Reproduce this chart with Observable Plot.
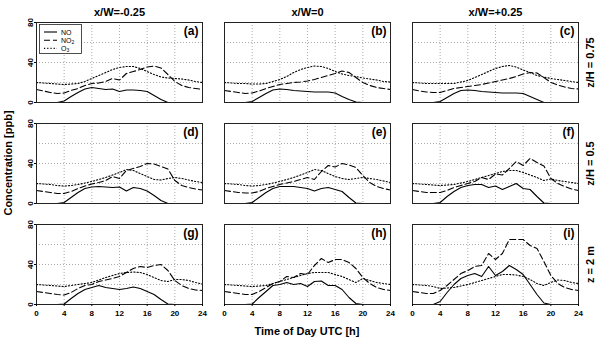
<!DOCTYPE html>
<html><head><meta charset="utf-8">
<script src="https://cdn.jsdelivr.net/npm/d3@7"></script>
<script src="https://cdn.jsdelivr.net/npm/@observablehq/plot@0.6"></script>
<style>
body{margin:0;background:#fff;}
#wrap{position:relative;width:600px;height:342px;font-family:"Liberation Sans",Arial,sans-serif;}
#wrap svg.plot{position:absolute;left:0;top:0;}
#ylab{position:absolute;left:8px;top:163px;transform:translate(-50%,-50%) rotate(-90deg);font-weight:bold;font-size:11px;white-space:nowrap;}
#xlab{position:absolute;left:307px;top:331px;transform:translate(-50%,-50%);font-weight:bold;font-size:11px;white-space:nowrap;}
#legend{position:absolute;left:0;top:0;pointer-events:none;}
</style></head>
<body><div id="wrap"></div>
<script>
const hours = [0,1,2,3,4,5,6,7,8,9,10,11,12,13,14,15,16,17,18,19,20,21,22,23,24];
const xTicks = [0,4,8,12,16,20,24];
const yTicks = [0,40,80];
const yGrid = [20,40,60];
const columns = ["x/W=-0.25","x/W=0","x/W=+0.25"];
const rows = ["z/H = 0.75","z/H = 0.5","z = 2 m"];
const letters = ["(a)","(b)","(c)","(d)","(e)","(f)","(g)","(h)","(i)"];
const speciesNames = ["NO","NO2","O3"];

// panel (a)
const NO_a  = [0,0,0,0,1.5,6,10,13.5,15,14,13,13.5,11,12.5,12.5,12,11,7,3,0,0,0,0,0,0];
const NO2_a = [13,11.5,10,9,9.5,12,14,17,19,19.5,21,24,22.5,29,31,33,35.5,36.5,34.5,28,21,17,15,14,13];
const O3_a  = [20,19.5,19,18.5,18,18.5,19,21,24,27,30,33,35,36,36,34,31,28,25.5,24.5,24,23.5,22.5,21,20];
// panel (b)
const NO_b  = [0,0,0,0,1,5,9,12.5,13.5,13,12,11.5,11,10.5,10.5,10.5,9.5,6,3,0.5,0,0,0,0,0];
const NO2_b = [12,11,10,9,9.5,11.5,14,16,18,19,20,20.5,21.5,23,25,27,29,31.5,30,25,20,17,15,14,13];
const O3_b  = [20,19.5,19,19,18.5,18.5,19,21,23,26,30,33,35,36.5,36,34,31,28.5,27,26,24.5,23.5,22.5,21,20.5];
// panel (c)
const NO_c  = [0,0,0,0,1,5,9,12,12.5,12,11,10.5,10,9.5,9.5,9.5,9,6,3,0,0,0,0,0,0];
const NO2_c = [13,11.5,10.5,10,10,12,14,15,16,17,18,19.5,21,22.5,24,26,28.5,30,29.5,25,20,17.5,15.5,14,13.5];
const O3_c  = [20,19.5,19,19,19,19,19,20.5,22,25,28,31,34,36,37,35.5,32.5,30,27,25.5,24,23,22,21,20];
// panel (d)
const NO_d  = [0,0,0,0,1,6,11,15,16.5,17,16.5,16,16.5,12.5,16,15,12.5,8,3,0,0,0,0,0,0];
const NO2_d = [13,12,11,10,10,12,15,17.5,19.5,21,23,27,25,33,35,37,40,39.5,37,34.5,23,18,16,14.5,13.5];
const O3_d  = [20,19.5,19,18,17.5,18,19,20.5,22,24,26,28.5,31,34,33,30,27,24,23.5,25,26,25,23.5,22,21];
// panel (e)
const NO_e  = [0,0,0,0,1,6,11,15,17,17,17,16,15,12.5,15,16,14,12,6,0.5,0,0,0,0,0];
const NO2_e = [13,12,11,10.5,10.5,12,15,17,19,20.5,22,24,26,24,32,38,36.5,40,38.5,36,28,21,17,15,13.5];
const O3_e  = [20,19.5,19,18,17.5,18,19,20.5,22,24,26,28.5,31,34,33,30,27,25,24,25,26,25,24,22.5,21];
// panel (f)
const NO_f  = [0,0,0,0,1,7,12,16,18,19,19,16,17.5,14,17,20,15,14,7,0.5,0,0,0,0,0];
const NO2_f = [13,12,11,11,11,13,16,18,20,22,26,24,29.5,28.5,35,42,38,45,41,37.5,25,20,17,14.5,13];
const O3_f  = [20,19.5,19,18.5,18,18.5,19,20.5,22,24,26,28,30,32,33,33,31,28.5,26,23,24.5,23,22,21,20];
// panel (g)
const NO_g  = [0,0,0,0,0.5,6,11,15,17,19,17,16,15,16,17.5,16,13,10,5,0.5,0,0,0,0,0];
const NO2_g = [13,12,11,10,9.5,12,16,19,20,23,24.5,26,28,32,36,38,37,39,40,34,24,19,16,14.5,14];
const O3_g  = [20,19.5,19,18.5,18,19,20,21,22,24.5,27,29,31,32,32.5,32,30,27,24,23,25,25,24,22,20.5];
// panel (h)
const NO_h  = [0,0,0,0,0.5,7,13,19,20,22,20,21,18,23,23.5,19,19,15,7,1,0,0,0,0,0];
const NO2_h = [13,12,11,10,10,13,17,21,23,28,27,31,30,39,46,42,45,45,42,36,27,21,17,15,14];
const O3_h  = [20,19.5,19,18.5,18,18.5,19,21,23,25,27,29,31,32,32,32,30,28,25,22,26,24,22,21,20];
// panel (i)
const NO_i  = [0,0,0,0,3,12,20,26,29,31,28,38,29,33,39,35,30,20,10,1.5,0,0,0,0,0];
const NO2_i = [13,12,11,11,14,19,25,31,34,38,39,51,45,51,65,65,65,59,56,43,29,21,17,15,14];
const O3_i  = [20,19.5,19,18,16,16.5,17,18.5,20,22,24,26,28,30,30,29.5,28,25,21,19,22,24.5,24,22,21];

const seriesByPanel = [
  [NO_a,NO2_a,O3_a],[NO_b,NO2_b,O3_b],[NO_c,NO2_c,O3_c],
  [NO_d,NO2_d,O3_d],[NO_e,NO2_e,O3_e],[NO_f,NO2_f,O3_f],
  [NO_g,NO2_g,O3_g],[NO_h,NO2_h,O3_h],[NO_i,NO2_i,O3_i]
];

const panels = letters.map((letter, k) => ({letter, col: columns[k % 3], row: rows[Math.floor(k / 3)]}));
const tidy = [];
panels.forEach((p, k) => {
  speciesNames.forEach((s, j) => {
    hours.forEach((h, t) => tidy.push({col: p.col, row: p.row, species: s, h, v: seriesByPanel[k][j][t]}));
  });
});
const bySpecies = s => tidy.filter(d => d.species === s);

const FONT = '"Liberation Sans", Arial, sans-serif';
const chart = Plot.plot({
  width: 600, height: 342,
  marginTop: 22, marginBottom: 38, marginLeft: 36, marginRight: 22,
  style: {fontFamily: FONT, fontWeight: "bold", background: "white", color: "black"},
  x: {domain: [0, 24]},
  y: {domain: [0, 80]},
  fx: {domain: columns, paddingInner: 22 / 188, paddingOuter: 0},
  fy: {domain: rows, paddingInner: 21 / 101, paddingOuter: 0},
  marks: [
    Plot.gridX({ticks: xTicks.slice(1, -1), stroke: "#aaa", strokeOpacity: 1, strokeDasharray: "1,2"}),
    Plot.gridY({ticks: yGrid, stroke: "#aaa", strokeOpacity: 1, strokeDasharray: "1,2"}),
    Plot.line(bySpecies("NO"), {x: "h", y: "v", fx: "col", fy: "row", stroke: "black", strokeWidth: 1.1}),
    Plot.line(bySpecies("NO2"), {x: "h", y: "v", fx: "col", fy: "row", stroke: "black", strokeWidth: 1.1, strokeDasharray: "6,3"}),
    Plot.line(bySpecies("O3"), {x: "h", y: "v", fx: "col", fy: "row", stroke: "black", strokeWidth: 1.1, strokeDasharray: "1.2,2"}),
    Plot.frame({stroke: "#222"}),
    Plot.text(panels, {fx: "col", fy: "row", text: "letter", frameAnchor: "top-right", dx: -4, dy: 4, fontSize: 12, fontWeight: "bold"}),
    Plot.axisX({ticks: xTicks, tickSize: 2, tickPadding: 4, fontSize: 8, label: null}),
    Plot.axisY({ticks: yTicks, tickSize: 2, tickRotate: -90, tickPadding: 2, fontSize: 8, label: null}),
    Plot.axisFx({anchor: "top", tickSize: 0, tickPadding: 7, fontSize: 11, label: null}),
    Plot.axisFy({anchor: "right", tickSize: 0, tickRotate: -90, lineAnchor: "top", tickPadding: 8, fontSize: 11, label: null})
  ]
});
chart.classList.add("plot");
const wrap = document.getElementById("wrap");
wrap.appendChild(chart);

// legend box inside panel (a)
const legendItems = [
  {name: "NO", sub: "", dash: null},
  {name: "NO", sub: "2", dash: "6,3"},
  {name: "O", sub: "3", dash: "1.2,2"}
];
const ns = "http://www.w3.org/2000/svg";
const lg = document.createElementNS(ns, "svg");
lg.setAttribute("id", "legend");
lg.setAttribute("width", 600);
lg.setAttribute("height", 342);
const box = document.createElementNS(ns, "rect");
box.setAttribute("x", 39.5); box.setAttribute("y", 24.5);
box.setAttribute("width", 42); box.setAttribute("height", 29);
box.setAttribute("fill", "white"); box.setAttribute("stroke", "#222"); box.setAttribute("stroke-width", 0.8);
lg.appendChild(box);
legendItems.forEach((it, i) => {
  const y = 32 + i * 8.2;
  const ln = document.createElementNS(ns, "line");
  ln.setAttribute("x1", 44); ln.setAttribute("x2", 57);
  ln.setAttribute("y1", y); ln.setAttribute("y2", y);
  ln.setAttribute("stroke", "black"); ln.setAttribute("stroke-width", 1.1);
  if (it.dash) ln.setAttribute("stroke-dasharray", it.dash);
  lg.appendChild(ln);
  const tx = document.createElementNS(ns, "text");
  tx.setAttribute("x", 61); tx.setAttribute("y", y + 2.5);
  tx.setAttribute("font-size", 7); tx.setAttribute("font-family", FONT);
  tx.textContent = it.name;
  if (it.sub) {
    const ts = document.createElementNS(ns, "tspan");
    ts.setAttribute("font-size", 5); ts.setAttribute("dy", 1.5);
    ts.textContent = it.sub;
    tx.appendChild(ts);
  }
  lg.appendChild(tx);
});
wrap.appendChild(lg);

const yl = document.createElement("div"); yl.id = "ylab"; yl.textContent = "Concentration [ppb]"; wrap.appendChild(yl);
const xl = document.createElement("div"); xl.id = "xlab"; xl.textContent = "Time of Day UTC [h]"; wrap.appendChild(xl);
</script>
</body></html>
